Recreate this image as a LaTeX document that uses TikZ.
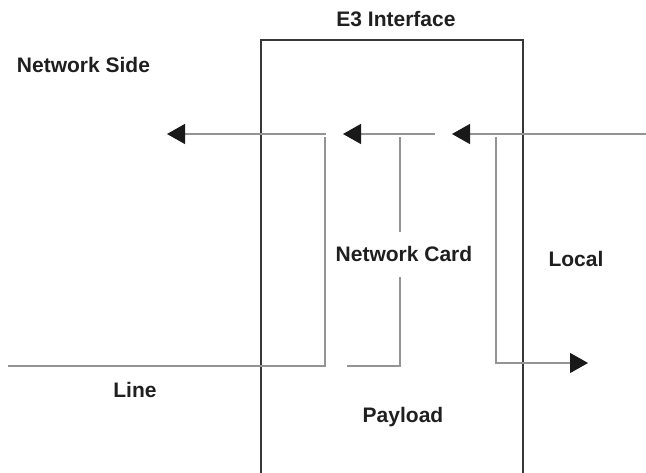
\documentclass[tikz,border=0pt]{standalone}
\usepackage{fontspec}
\setmainfont{Liberation Sans}
\usetikzlibrary{arrows.meta}
\begin{document}
\begin{tikzpicture}[x=1pt,y=-1pt,
  lbl/.style={font=\fontsize{21}{25}\selectfont\bfseries, text=black!88, anchor=base, inner sep=0pt},
  wire/.style={draw=black!42, line width=1.3pt, line join=miter},
  frame/.style={draw=black!78, line width=1.1pt},
  tip/.style={-{Triangle[length=18pt,width=20pt,color=black!90,fill=black!90]}}]
\useasboundingbox (0,0) rectangle (646,473);
% coordinates
\coordinate (a1s) at (326,134); \coordinate (a1t) at (167,134);
\coordinate (a2s) at (435,134); \coordinate (a2t) at (343,134);
\coordinate (a3s) at (646,134); \coordinate (a3t) at (452,134);
\coordinate (v1top) at (325,137); \coordinate (v1bot) at (325,366); \coordinate (l1end) at (8,366);
\coordinate (v2top) at (400,137); \coordinate (v2bot) at (400,366); \coordinate (l2end) at (347,366);
\coordinate (v3top) at (496,137); \coordinate (v3bot) at (496,363); \coordinate (a4t) at (588,363);
\coordinate (bl) at (261,476); \coordinate (tl) at (261,40);
\coordinate (tr) at (523,40); \coordinate (br) at (523,476);
% frame
\draw[frame] (bl) -- (tl) -- (tr) -- (br);
% labels
\node[lbl] (title) at (396,27) {E3 Interface};
\node[lbl] (netside) at (83.5,73) {Network Side};
\node[lbl, fill=white, inner ysep=14.5pt, inner xsep=1pt] (nc) at (404,262) {Network Card};
\node[lbl] (local) at (576,267) {Local};
\node[lbl] (line) at (135,397) {Line};
\node[lbl] (payload) at (403,422) {Payload};
% wires
\draw[wire] (l1end) -- (v1bot) -- (v1top);
\draw[wire] (l2end) -- (v2bot) -- (v2bot |- nc.south);
\draw[wire] (v2top |- nc.north) -- (v2top);
\draw[wire, tip] (v3top) -- (v3bot) -- (a4t);
\draw[wire, tip] (a1s) -- (a1t);
\draw[wire, tip] (a2s) -- (a2t);
\draw[wire, tip] (a3s) -- (a3t);
\end{tikzpicture}
\end{document}
